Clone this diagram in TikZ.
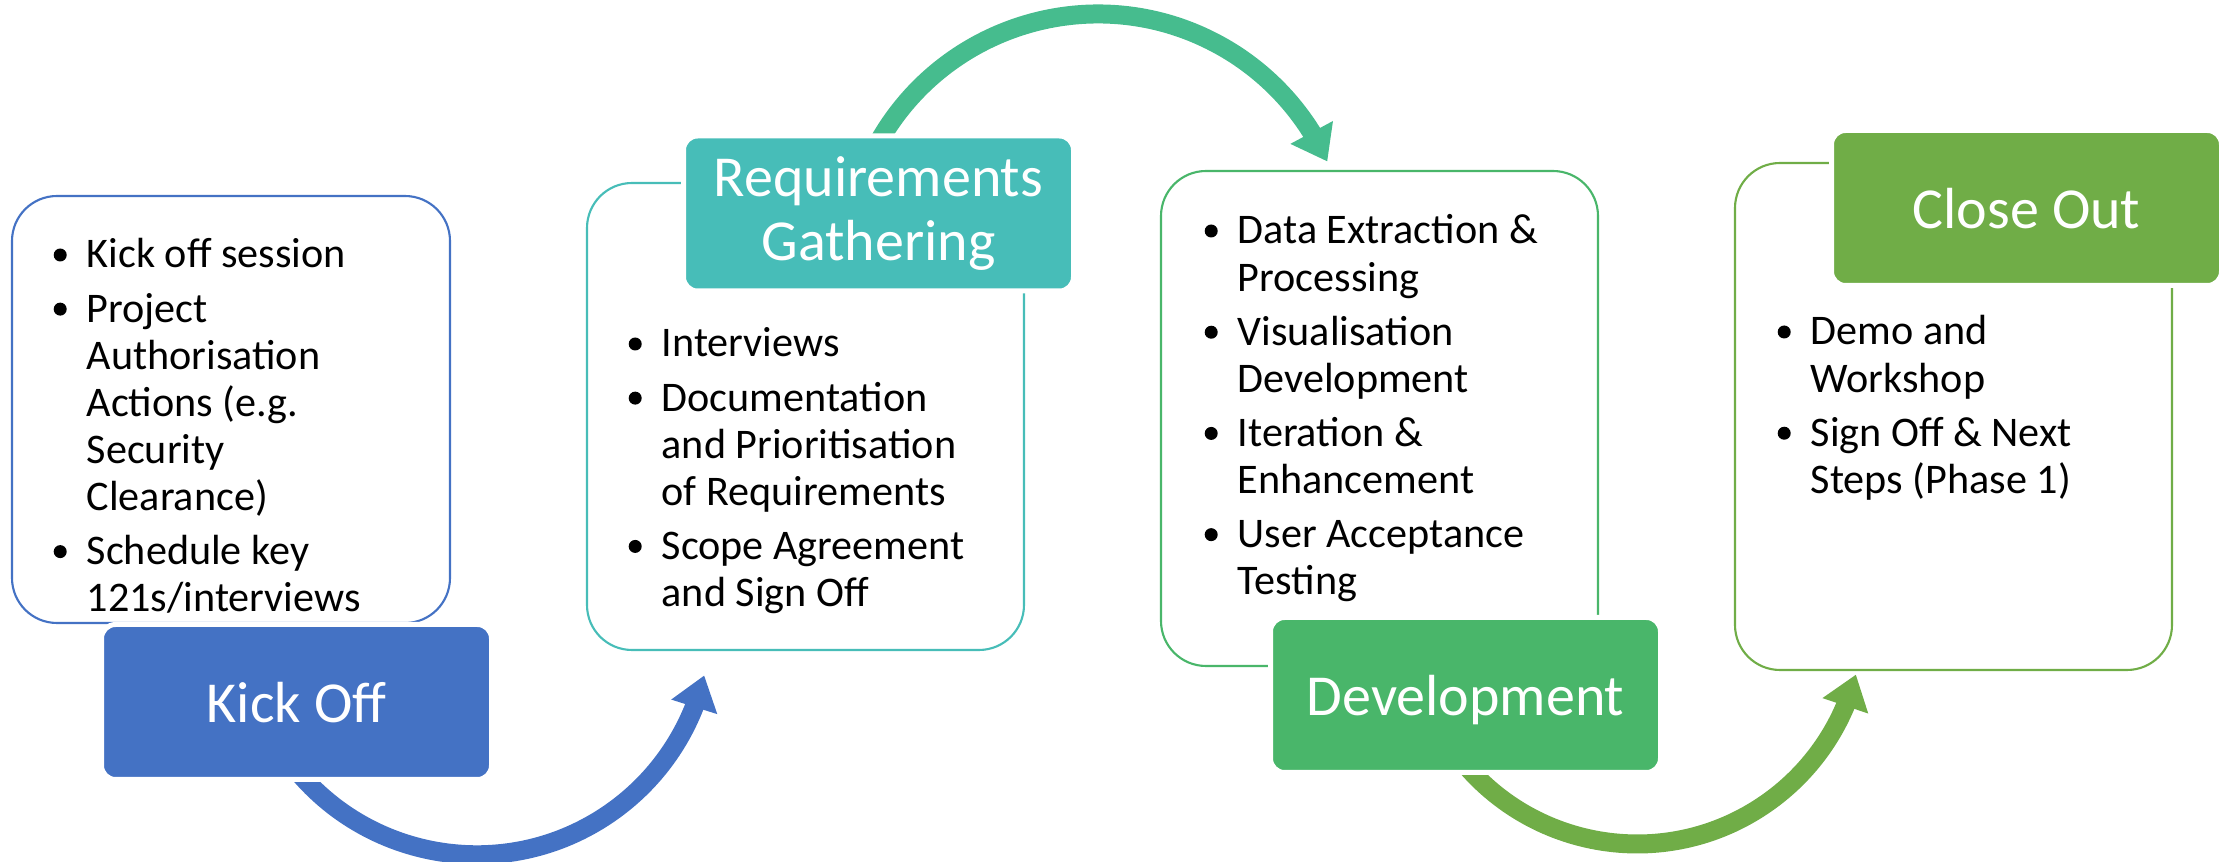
\documentclass[tikz,border=0pt]{standalone}
\usepackage{fontspec}
\setmainfont{Carlito}
\usetikzlibrary{arrows.meta,bending}

\definecolor{kickblue}{HTML}{4472C4}
\definecolor{reqteal}{HTML}{47BDB8}
\definecolor{arcteal}{HTML}{46BC8E}
\definecolor{devgreen}{HTML}{49B66A}
\definecolor{closegreen}{HTML}{70AD47}

\newcommand{\itembullet}{\tikz[baseline={(0,-0.13cm)}]\fill (0,0) circle (0.065cm);}

\begin{document}
\begin{tikzpicture}
        [x=0.1mm, y=0.1mm,
        listbox/.style={rounded corners=0.45cm, line width=0.6pt, fill=white, inner sep=0pt},
        header/.style={draw=white, line width=0.05cm, rounded corners=0.14cm, minimum width=3.9cm, minimum height=1.55cm, text=white, font=\fontsize{16.5}{18.2}\selectfont, align=center, inner sep=0pt},
        oneline/.style={text depth=0pt},
        items/.style={anchor=base west, inner sep=0pt, font=\fontsize{12}{13.4}\selectfont},
        bigarrow/.style={line width=0.19cm, -{Triangle[width=0.46cm, length=0.33cm]}}]

        \useasboundingbox (0,0) rectangle (2228,862);

        % list boxes
        \node[listbox, draw=kickblue, minimum width=4.38cm, minimum height=4.27cm] (kickbox) at (231,452.5) {};
        \node[listbox, draw=reqteal, minimum width=4.37cm, minimum height=4.67cm] (reqbox) at (805.5,445.5) {};
        \node[listbox, draw=devgreen, minimum width=4.37cm, minimum height=4.95cm] (devbox) at (1379.5,443.5) {};
        \node[listbox, draw=closegreen, minimum width=4.37cm, minimum height=5.07cm] (closebox) at (1953.5,445.5) {};

        % where the arrows leave the headers
        \coordinate (kickarc) at (285,107);
        \coordinate (reqarc) at (875.5,714.3);
        \coordinate (devarc) at (1452,114.4);

        % arrows between the phases
        \draw[bigarrow, kickblue] (kickarc) arc[start angle=215, end angle=346.5, radius=2.34cm];
        \draw[bigarrow, arcteal] (reqarc) arc[start angle=152, end angle=24.5, radius=2.52cm];
        \draw[bigarrow, closegreen] (devarc) arc[start angle=215, end angle=345.5, radius=2.26cm];

        % phase headers
        \node[header, oneline, fill=kickblue] (kickoff) at (296.5,160) {Kick Off};
        \node[header, fill=reqteal] (reqs) at (878.5,648.5) {Requirements\\Gathering};
        \node[header, oneline, fill=devgreen] (dev) at (1465.5,167) {Development};
        \node[header, oneline, fill=closegreen] (closeout) at (2026.5,654) {Close Out};

        % bullet lists
        \node[items] (kickitems) at (53,594) {\begin{tabular}[t]{@{}p{0.33cm}@{}l@{}}
            \itembullet & Kick off session\\[2pt]
            \itembullet & Project\\
            & Authorisation\\
            & Actions (e.g.\\
            & Security\\
            & Clearance)\\[2pt]
            \itembullet & Schedule key\\
            & 121s/interviews
        \end{tabular}};
        \node[items] (reqitems) at (628,505) {\begin{tabular}[t]{@{}p{0.33cm}@{}l@{}}
            \itembullet & Interviews\\[2pt]
            \itembullet & Documentation\\
            & and Prioritisation\\
            & of Requirements\\[2pt]
            \itembullet & Scope Agreement\\
            & and Sign Off
        \end{tabular}};
        \node[items] (devitems) at (1204,618) {\begin{tabular}[t]{@{}p{0.33cm}@{}l@{}}
            \itembullet & Data Extraction \&\\
            & Processing\\[2pt]
            \itembullet & Visualisation\\
            & Development\\[2pt]
            \itembullet & Iteration \&\\
            & Enhancement\\[2pt]
            \itembullet & User Acceptance\\
            & Testing
        \end{tabular}};
        \node[items] (closeitems) at (1777,517) {\begin{tabular}[t]{@{}p{0.33cm}@{}l@{}}
            \itembullet & Demo and\\
            & Workshop\\[2pt]
            \itembullet & Sign Off \& Next\\
            & Steps (Phase 1)
        \end{tabular}};

\end{tikzpicture}
\end{document}
